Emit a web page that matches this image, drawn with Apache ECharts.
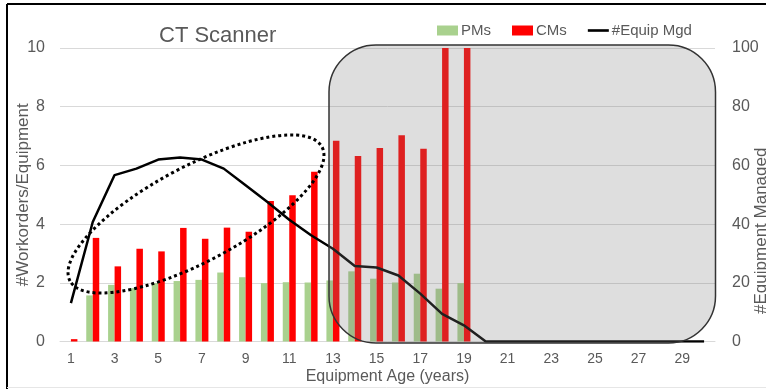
<!DOCTYPE html>
<html><head><meta charset="utf-8">
<script src="https://cdn.jsdelivr.net/npm/echarts@6/dist/echarts.min.js"></script>
<style>html,body{margin:0;padding:0;background:#fff}#c{width:766px;height:389px}</style>
</head><body><div id="c"></div>
<script>
const categories = ['1','2','3','4','5','6','7','8','9','10','11','12','13','14','15','16','17','18','19','20','21','22','23','24','25','26','27','28','29','30'];
const pms = [0,1.57,1.93,1.82,1.99,2.06,2.1,2.35,2.19,1.99,2.02,2.01,2.08,2.39,2.14,2.01,2.31,1.8,1.99,0,0,0,0,0,0,0,0,0,0,0];
const cms = [0.08,3.53,2.56,3.16,3.07,3.87,3.5,3.88,3.74,4.79,4.98,5.78,6.84,6.32,6.59,7.03,6.57,10,10,0,0,0,0,0,0,0,0,0,0,0];
const equipMgd = [13.1,40.7,56.7,58.9,62.0,62.7,62.0,58.9,53.2,47.5,41.5,36.2,31.6,25.7,25.2,22.5,16.3,9.4,5.5,0,0,0,0,0,0,0,0,0,0,0];
const leftTicks = [0,2,4,6,8,10];
const rightTicks = [0,20,40,60,80,100];

const FONT = 'Liberation Sans';
const GRAY = '#595959';
const chart = echarts.init(document.getElementById('c'), null, {renderer:'canvas'});
chart.setOption({
  animation:false,
  textStyle:{fontFamily:FONT},
  title:{text:'CT Scanner', left:154, top:20, textStyle:{fontFamily:FONT, fontSize:22, fontWeight:'normal', color:GRAY}},
  legend:{left:432, top:18, itemWidth:21, itemHeight:10, itemGap:21,
    textStyle:{fontFamily:FONT, fontSize:15, color:GRAY, padding:[0,0,0,-2]},
    data:[{name:'PMs', icon:'rect'},{name:'CMs', icon:'rect'},
      {name:'#Equip Mgd', icon:'path://M0,0 L20,0 L20,2.5 L0,2.5 Z', itemStyle:{color:'#000'}}]},
  grid:{left:60, right:51, top:48, bottom:47.5, containLabel:false, outerBoundsMode:'none'},
  xAxis:{type:'category', data:categories,
    name:'Equipment Age (years)', nameLocation:'middle', nameGap:27, nameMoveOverlap:false,
    nameTextStyle:{fontFamily:FONT, fontSize:16, color:GRAY},
    axisLine:{show:true, lineStyle:{color:'#d9d9d9'}}, axisTick:{show:false},
    axisLabel:{interval:1, margin:11, fontFamily:FONT, fontSize:14, color:GRAY}},
  yAxis:[
    {type:'value', min:0, max:10, interval:2,
      name:'#Workorders/Equipment', nameLocation:'middle', nameGap:28, nameMoveOverlap:false,
      nameTextStyle:{fontFamily:FONT, fontSize:17, color:GRAY},
      axisLine:{show:false}, axisTick:{show:false},
      axisLabel:{margin:15, fontFamily:FONT, fontSize:16, color:GRAY,
        formatter:v=>leftTicks.includes(v)?String(v):''},
      splitLine:{lineStyle:{color:'#d9d9d9', width:1}}},
    {type:'value', min:0, max:100, interval:20, position:'right',
      name:'#Equipment Managed', nameLocation:'middle', nameGap:38, nameMoveOverlap:false,
      nameTextStyle:{fontFamily:FONT, fontSize:17, color:GRAY, padding:[0,72,0,0]},
      axisLine:{show:false}, axisTick:{show:false},
      axisLabel:{margin:17, fontFamily:FONT, fontSize:16, color:GRAY,
        formatter:v=>rightTicks.includes(v)?String(v):''},
      splitLine:{show:false}}
  ],
  series:[
    {name:'PMs', type:'bar', data:pms, barWidth:6.5, barGap:'0%', itemStyle:{color:'#a9d18e'}, z:2},
    {name:'CMs', type:'bar', data:cms, barWidth:6.5, barGap:'0%', itemStyle:{color:'#ff0000'}, z:2},
    {name:'#Equip Mgd', type:'line', yAxisIndex:1, data:equipMgd, symbol:'none',
      lineStyle:{color:'#000', width:2.5}, itemStyle:{color:'#000'}, z:3}
  ],
  graphic:[
    {type:'line', shape:{x1:7, y1:4, x2:766, y2:4}, style:{stroke:'#000', lineWidth:2}, z:10},
    {type:'line', shape:{x1:7, y1:4, x2:7, y2:389}, style:{stroke:'#000', lineWidth:2}, z:10},
    {type:'line', shape:{x1:7, y1:387.5, x2:766, y2:387.5}, style:{stroke:'#e6e6e6', lineWidth:1}, z:10},
    {type:'rect', shape:{x:329, y:45, width:386.5, height:298, r:47},
      style:{fill:'rgba(125,125,125,0.255)', stroke:'#333', lineWidth:1.5}, z:20},
    {type:'ellipse', x:196, y:214, rotation:28*Math.PI/180,
      shape:{cx:0, cy:0, rx:142.7, ry:47.5},
      style:{fill:'none', stroke:'#000', lineWidth:3, lineDash:[3,3]}, z:21}
  ]
});
</script>
</body></html>
